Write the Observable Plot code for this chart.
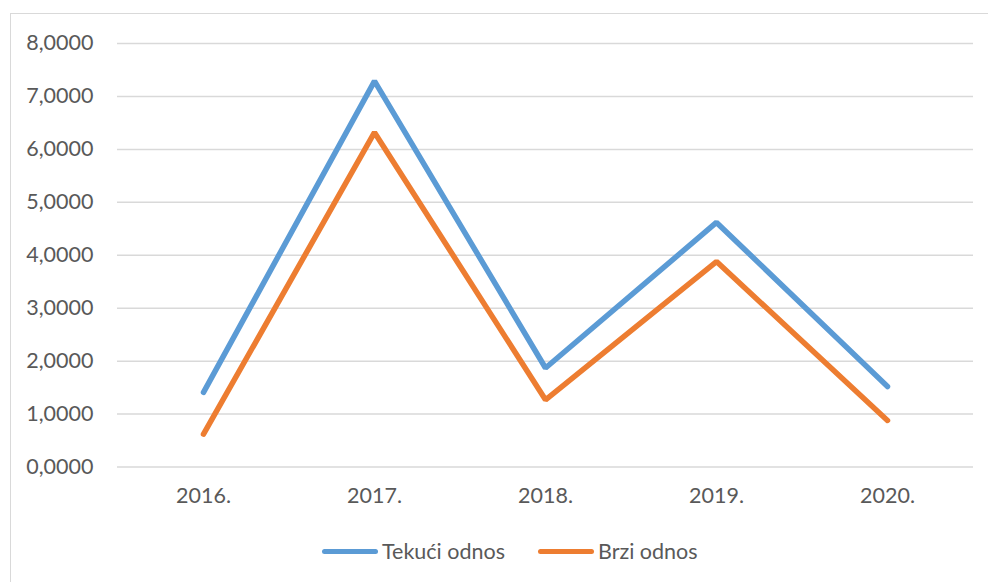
<!DOCTYPE html>
<html>
<head>
<meta charset="utf-8">
<script src="https://cdn.jsdelivr.net/npm/d3@7"></script>
<script src="https://cdn.jsdelivr.net/npm/@observablehq/plot@0.6"></script>
<style>
  html, body { margin: 0; padding: 0; background: #fff; overflow: hidden; }
  body { width: 988px; height: 582px; position: relative; font-family: Lato, "Open Sans", sans-serif; }
  #frame { position: absolute; left: 10px; top: 13px; width: 1000px; height: 600px; border: 1.5px solid #D9D9D9; box-sizing: border-box; }
  #chart { position: absolute; left: 0; top: 0; }
  #legend { position: absolute; left: 322px; top: 531px; height: 40px; display: flex; align-items: center; font-size: 21.5px; color: #595959; }
  .item { display: flex; align-items: center; }
  .sw { width: 56px; height: 5px; border-radius: 3px; margin-right: 4px; }
</style>
</head>
<body>
<div id="frame"></div>
<div id="chart"></div>
<div id="legend"></div>
<script>
const years = ["2016.", "2017.", "2018.", "2019.", "2020."];
const tekuci = [1.41, 7.29, 1.87, 4.62, 1.52];
const brzi = [0.62, 6.32, 1.27, 3.88, 0.88];
const seriesNames = ["Tekući odnos", "Brzi odnos"];
const colors = ["#5B9BD5", "#ED7D31"];
const yTicks = [0, 1, 2, 3, 4, 5, 6, 7, 8];

const data = [];
years.forEach((y, i) => {
  data.push({year: y, value: tekuci[i], series: seriesNames[0]});
  data.push({year: y, value: brzi[i], series: seriesNames[1]});
});

const fmt = d => d3.format(".4f")(d).replace(".", ",");

const chart = Plot.plot({
  width: 988,
  height: 530,
  marginLeft: 117,
  marginRight: 15,
  marginTop: 43,
  marginBottom: 63.5,
  style: { fontFamily: "Lato, 'Open Sans', sans-serif", fontSize: "21.5px", color: "#595959", background: "transparent" },
  x: { type: "point", domain: years, padding: 0.5, label: null },
  y: { domain: [0, 8], ticks: yTicks, label: null },
  color: { domain: seriesNames, range: colors },
  marks: [
    Plot.ruleY(yTicks, { stroke: "#D9D9D9", strokeWidth: 1.5 }),
    Plot.axisY({ ticks: yTicks, tickFormat: fmt, tickSize: 0, tickPadding: 24, label: null, fill: "#595959" }),
    Plot.axisX({ tickSize: 0, tickPadding: 21, label: null, fill: "#595959" }),
    Plot.line(data, { x: "year", y: "value", z: "series", stroke: "series", strokeWidth: 5.5, strokeLinecap: "round", strokeLinejoin: "miter" })
  ]
});
document.getElementById("chart").appendChild(chart);

const legend = document.getElementById("legend");
seriesNames.forEach((name, i) => {
  const item = document.createElement("div");
  item.className = "item";
  if (i > 0) item.style.marginLeft = "33px";
  const sw = document.createElement("div");
  sw.className = "sw";
  sw.style.background = colors[i];
  const t = document.createElement("span");
  t.textContent = name;
  item.appendChild(sw);
  item.appendChild(t);
  legend.appendChild(item);
});
</script>
</body>
</html>
